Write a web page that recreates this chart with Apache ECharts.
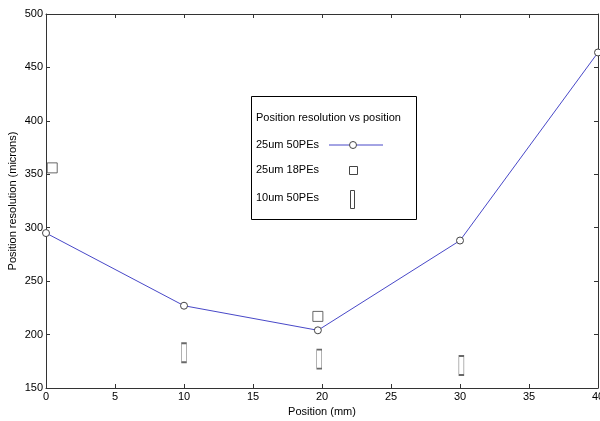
<!DOCTYPE html>
<html>
<head>
<meta charset="utf-8">
<script src="https://cdn.jsdelivr.net/npm/echarts@6/dist/echarts.min.js"></script>
<style>
html,body{margin:0;padding:0;background:#fff;}
#chart{width:600px;height:421px;}
</style>
</head>
<body>
<div id="chart"></div>
<script>
// Data
const pos25um50 = [0, 10, 19.7, 30, 40];
const res25um50 = [295, 227, 204, 288, 464];
const pos25um18 = [0.45, 19.7];
const res25um18 = [356, 217];
const pos10um50 = [10, 19.8, 30.1];
const res10um50 = [183, 177, 171];
const seriesNames = ['25um 50PEs', '25um 18PEs', '10um 50PEs'];
const legendTitle = 'Position resolution vs position';
const xName = 'Position (mm)';
const yName = 'Position resolution (microns)';

const zip = (a, b) => a.map((v, i) => [v, b[i]]);
const font = 'Liberation Sans, Arial, sans-serif';
const axisCol = '#333';
const lineCol = '#4848c8';
const markCol = '#444';

const chart = echarts.init(document.getElementById('chart'), null, {renderer: 'canvas'});

const baseAxis = {
  axisLine: {show: true, onZero: false, lineStyle: {color: axisCol, width: 1}},
  axisTick: {show: true, inside: true, length: 4, lineStyle: {color: axisCol}},
  splitLine: {show: false}
};

chart.setOption({
  animation: false,
  backgroundColor: '#fff',
  grid: {left: 46, right: 2, top: 14, bottom: 33, containLabel: false, outerBoundsMode: 'none'},
  xAxis: [
    Object.assign({}, baseAxis, {
      type: 'value', min: 0, max: 40, interval: 5, position: 'bottom',
      name: xName, nameLocation: 'middle', nameGap: 18, nameMoveOverlap: false,
      nameTextStyle: {color: '#000', fontSize: 11, fontFamily: font},
      axisLabel: {color: '#000', fontSize: 11, fontFamily: font, margin: 3}
    }),
    Object.assign({}, baseAxis, {
      type: 'value', min: 0, max: 40, interval: 5, position: 'top',
      axisLabel: {show: false}
    })
  ],
  yAxis: [
    Object.assign({}, baseAxis, {
      type: 'value', min: 150, max: 500, interval: 50, position: 'left',
      name: yName, nameLocation: 'middle', nameGap: 28, nameRotate: 90, nameMoveOverlap: false,
      nameTextStyle: {color: '#000', fontSize: 11, fontFamily: font},
      axisLabel: {color: '#000', fontSize: 11, fontFamily: font, margin: 3}
    }),
    Object.assign({}, baseAxis, {
      type: 'value', min: 150, max: 500, interval: 50, position: 'right',
      axisLabel: {show: false}
    })
  ],
  series: [
    {
      name: seriesNames[0], type: 'line', data: zip(pos25um50, res25um50),
      symbol: 'circle', symbolSize: 7, showAllSymbol: true,
      lineStyle: {color: lineCol, width: 1},
      itemStyle: {color: '#fff', borderColor: markCol, borderWidth: 1},
      clip: false, z: 3
    },
    {
      name: seriesNames[1], type: 'scatter', data: zip(pos25um18, res25um18),
      symbol: 'rect', symbolSize: 10,
      itemStyle: {color: 'rgba(0,0,0,0)', borderColor: markCol, borderWidth: 1},
      clip: false, z: 4
    },
    {
      name: seriesNames[2], type: 'scatter', data: zip(pos10um50, res10um50),
      symbol: 'rect', symbolSize: [5, 19],
      itemStyle: {color: 'rgba(0,0,0,0)', borderColor: markCol, borderWidth: 1},
      clip: false, z: 4
    }
  ],
  graphic: [
    {type: 'rect', shape: {x: 251.5, y: 96.5, width: 165, height: 123},
     style: {fill: '#fff', stroke: '#000', lineWidth: 1}, z: 10},
    {type: 'text', x: 256, y: 118, style: {text: legendTitle, fill: '#000', font: '11px ' + font, verticalAlign: 'middle'}, z: 11},
    {type: 'text', x: 256, y: 145, style: {text: seriesNames[0], fill: '#000', font: '11px ' + font, verticalAlign: 'middle'}, z: 11},
    {type: 'text', x: 256, y: 170, style: {text: seriesNames[1], fill: '#000', font: '11px ' + font, verticalAlign: 'middle'}, z: 11},
    {type: 'text', x: 256, y: 198, style: {text: seriesNames[2], fill: '#000', font: '11px ' + font, verticalAlign: 'middle'}, z: 11},
    {type: 'polyline', shape: {points: [[329, 145], [349, 145]]}, style: {stroke: lineCol, lineWidth: 1, fill: null}, z: 11},
    {type: 'polyline', shape: {points: [[357, 145], [383, 145]]}, style: {stroke: lineCol, lineWidth: 1, fill: null}, z: 11},
    {type: 'circle', shape: {cx: 353, cy: 145, r: 3.5}, style: {fill: '#fff', stroke: markCol, lineWidth: 1}, z: 11},
    {type: 'rect', shape: {x: 349.5, y: 166.5, width: 8, height: 8}, style: {fill: 'none', stroke: markCol, lineWidth: 1}, z: 11},
    {type: 'rect', shape: {x: 350.5, y: 190.5, width: 4, height: 18}, style: {fill: 'none', stroke: markCol, lineWidth: 1}, z: 11}
  ]
});
</script>
</body>
</html>
